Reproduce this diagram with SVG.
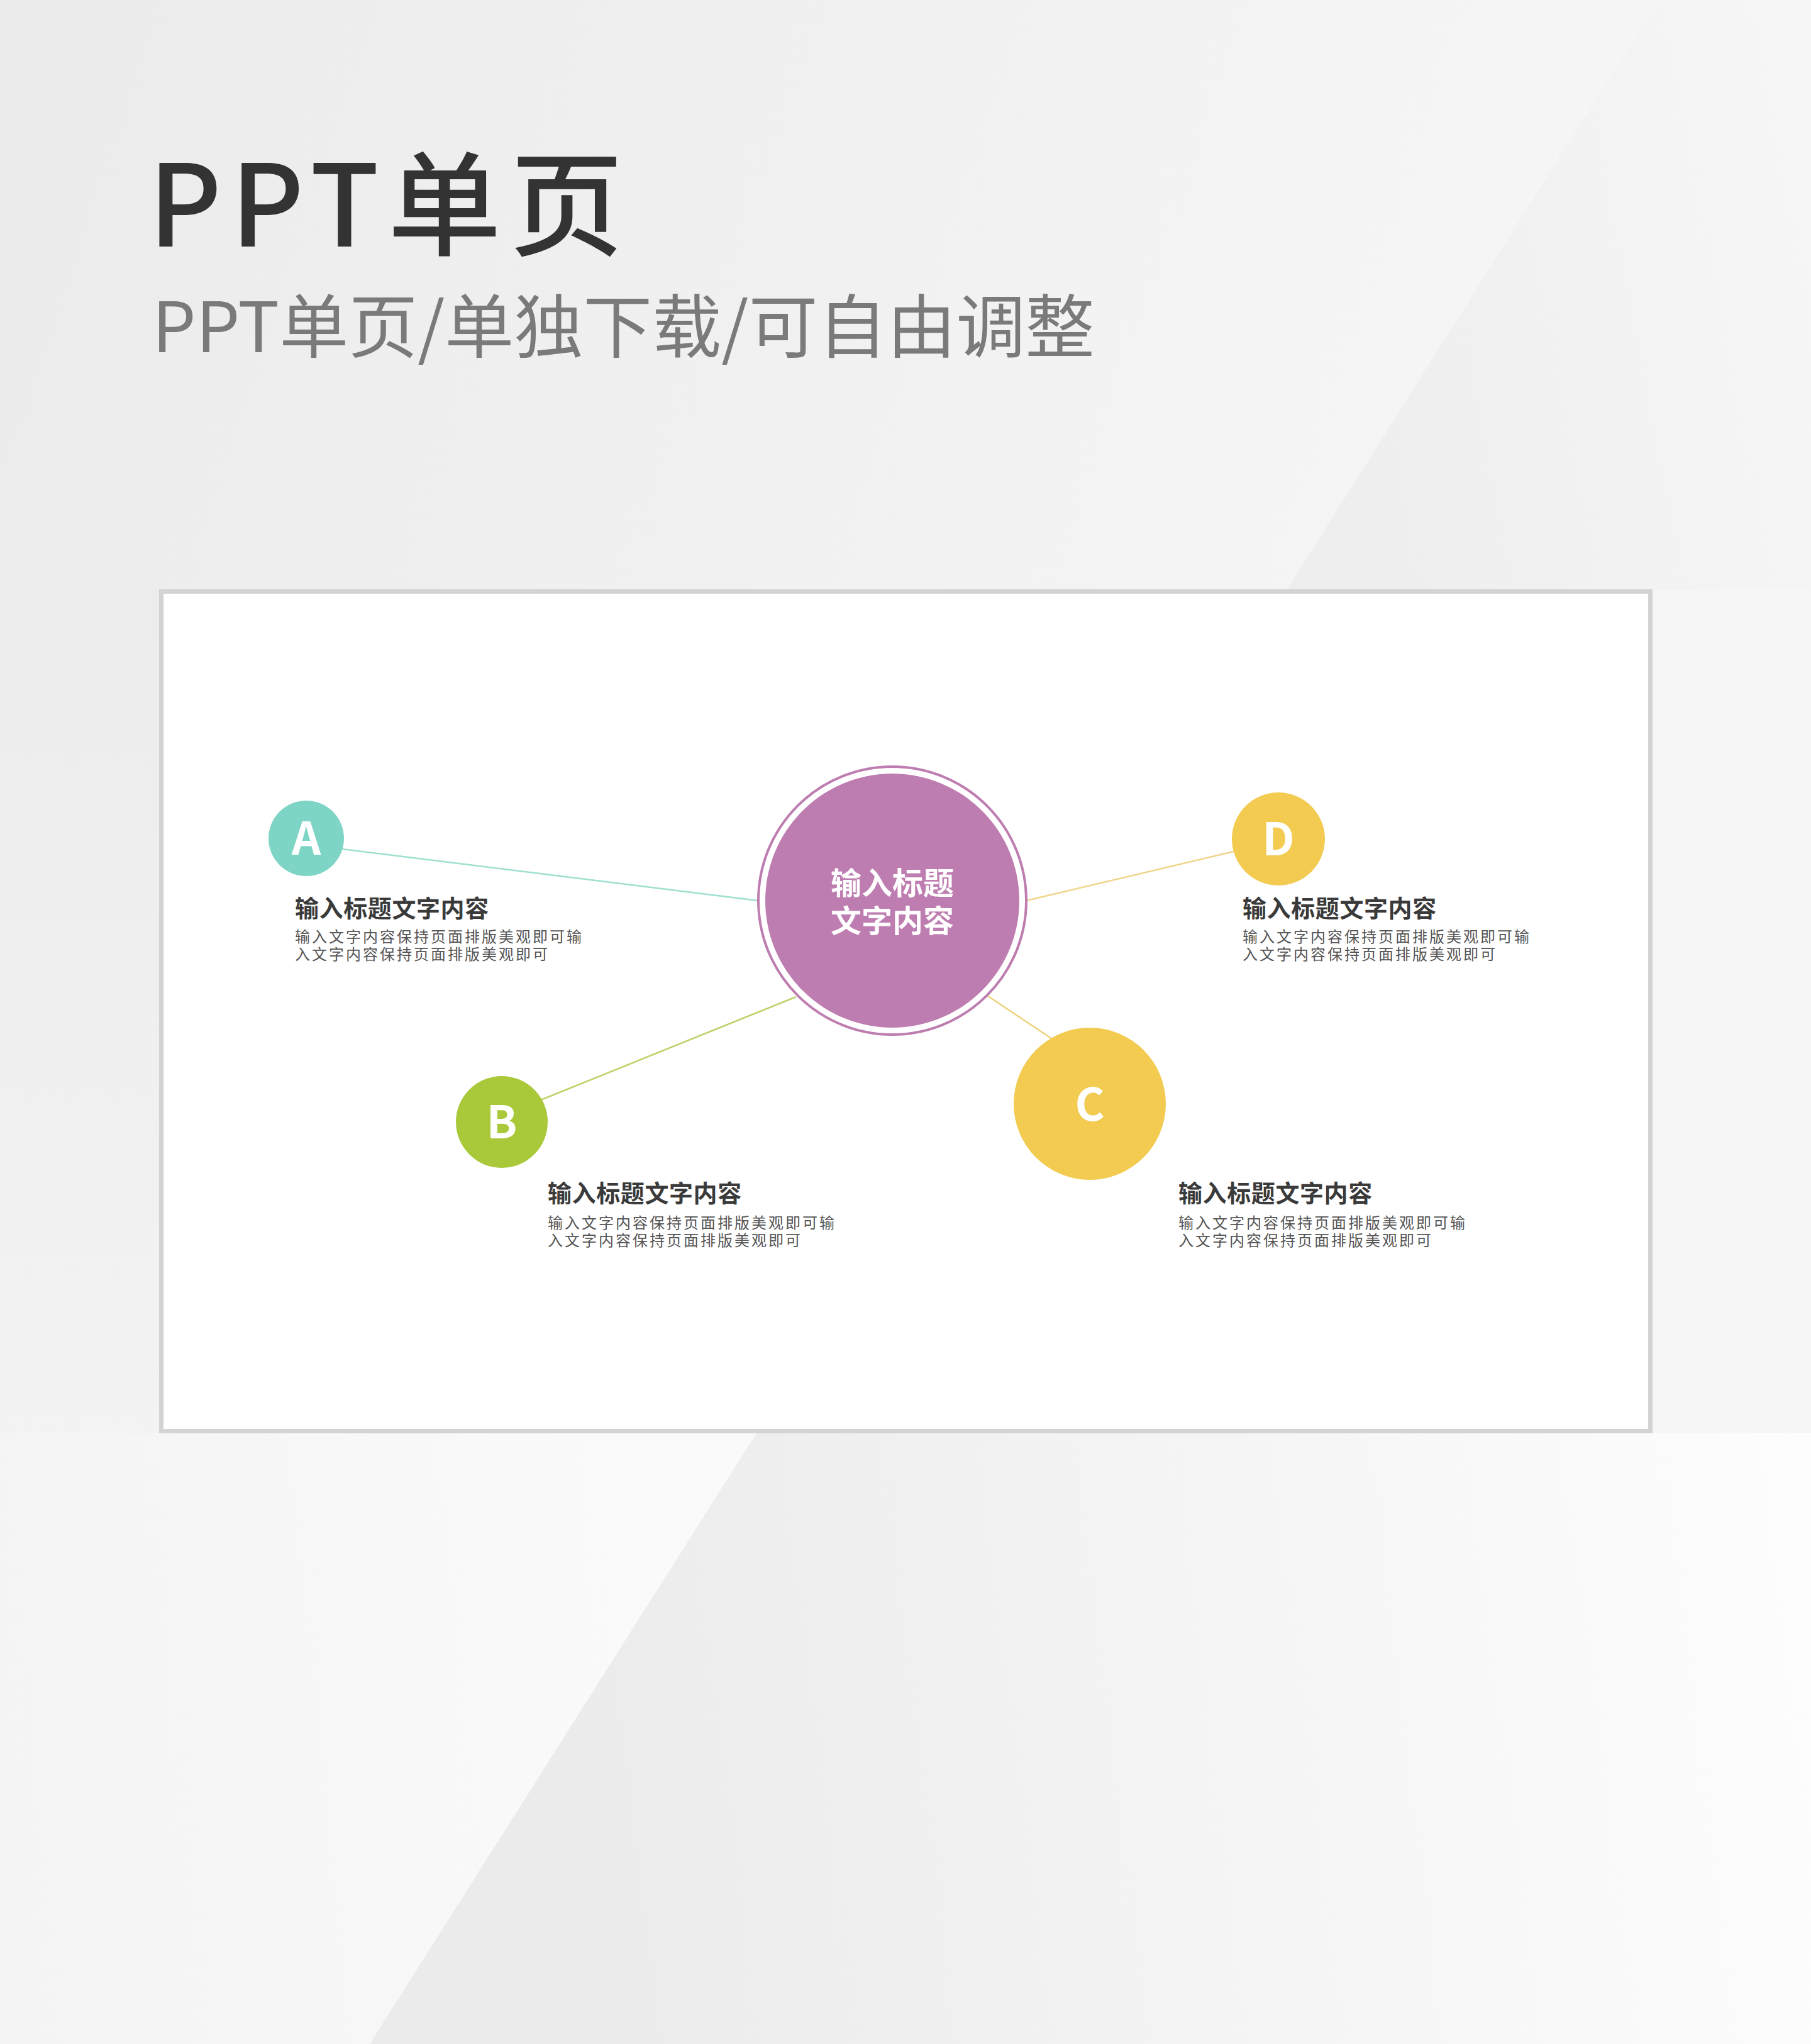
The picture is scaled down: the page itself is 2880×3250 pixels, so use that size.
<svg xmlns="http://www.w3.org/2000/svg" width="2880" height="3250" viewBox="0 0 2880 3250">
  <style>
    .cjk { font-family: "Noto Sans CJK SC", "Noto Sans", sans-serif; }
    .h1 { font-size: 180px; font-weight: 500; fill: #333333; letter-spacing: 14px; }
    .h2 { font-size: 110px; font-weight: 400; fill: #7a7a7a; }
    .nt { font-size: 38px; font-weight: 700; fill: #3a3a3a; letter-spacing: 0.6px; }
    .nb { font-size: 24px; font-weight: 400; fill: #555555; letter-spacing: 3px; }
    .lt { font-size: 72px; font-weight: 700; fill: #ffffff; text-anchor: middle; }
    .ct { font-size: 49px; font-weight: 700; fill: #ffffff; text-anchor: middle; }
    .conn { fill: none; stroke-width: 2.5; }
  </style>
  <defs>
    <linearGradient id="bgBase" x1="0" y1="0" x2="2700" y2="900" gradientUnits="userSpaceOnUse">
      <stop offset="0" stop-color="#ebebeb"/>
      <stop offset="1" stop-color="#f7f7f7"/>
    </linearGradient>
    <linearGradient id="bgTR" x1="2100" y1="500" x2="2880" y2="350" gradientUnits="userSpaceOnUse">
      <stop offset="0" stop-color="#eeeeee"/>
      <stop offset="1" stop-color="#f6f6f6"/>
    </linearGradient>
    <linearGradient id="bgL" x1="0" y1="937" x2="0" y2="2279" gradientUnits="userSpaceOnUse">
      <stop offset="0" stop-color="#ececec"/>
      <stop offset="1" stop-color="#f3f3f3"/>
    </linearGradient>
    <linearGradient id="bgBL" x1="0" y1="2800" x2="1000" y2="2700" gradientUnits="userSpaceOnUse">
      <stop offset="0" stop-color="#f4f4f4"/>
      <stop offset="1" stop-color="#fafafa"/>
    </linearGradient>
    <linearGradient id="bgBR" x1="880" y1="2800" x2="2880" y2="2550" gradientUnits="userSpaceOnUse">
      <stop offset="0" stop-color="#ebebeb"/>
      <stop offset="1" stop-color="#fdfdfd"/>
    </linearGradient>
  </defs>

  <!-- background -->
  <rect x="0" y="0" width="2880" height="3250" fill="url(#bgBase)"/>
  <polygon points="2637,0 2880,0 2880,937 2047,937" fill="url(#bgTR)"/>
  <rect x="0" y="937" width="256" height="1342" fill="url(#bgL)"/>
  <rect x="2624" y="937" width="256" height="1342" fill="#f6f6f6"/>
  <polygon points="0,2279 1203,2279 588,3250 0,3250" fill="url(#bgBL)"/>
  <polygon points="1203,2279 2880,2279 2880,3250 588,3250" fill="url(#bgBR)"/>

  <!-- heading -->
  <text class="cjk h1" x="236" y="392">PPT单页</text>
  <text class="cjk h2" x="242" y="560">PPT单页/单独下载/可自由调整</text>

  <!-- card -->
  <rect x="256.5" y="940.5" width="2368" height="1335" fill="#ffffff" stroke="#d3d3d3" stroke-width="7"/>

  <!-- connectors -->
  <g id="connectors">
    <line class="conn" x1="487" y1="1343" x2="1205" y2="1432" stroke="#9edfd0"/>
    <line class="conn" x1="798" y1="1774" x2="1266" y2="1585" stroke="#bcd36a"/>
    <line class="conn" x1="1570" y1="1583" x2="1733" y2="1692" stroke="#ecd37a"/>
    <line class="conn" x1="1632" y1="1432" x2="2033" y2="1337" stroke="#efd68a"/>
  </g>

  <!-- center node -->
  <g id="node-center">
    <circle cx="1419" cy="1432" r="213" fill="#ffffff" stroke="#be7db0" stroke-width="4"/>
    <circle cx="1419" cy="1432" r="202" fill="#be7db0"/>
    <text class="cjk ct" x="1419" y="1422">输入标题</text>
    <text class="cjk ct" x="1419" y="1482">文字内容</text>
  </g>

  <!-- node A -->
  <g id="node-a">
    <circle cx="487" cy="1333" r="60" fill="#7fd5c5"/>
    <text class="cjk lt" x="487" y="1359">A</text>
    <text class="cjk nt" x="469" y="1458">输入标题文字内容</text>
    <text class="cjk nb" x="469" y="1498">输入文字内容保持页面排版美观即可输</text>
    <text class="cjk nb" x="469" y="1526">入文字内容保持页面排版美观即可</text>
  </g>

  <!-- node B -->
  <g id="node-b">
    <circle cx="798" cy="1784" r="73" fill="#a9c83a"/>
    <text class="cjk lt" x="798" y="1810">B</text>
    <text class="cjk nt" x="871" y="1911">输入标题文字内容</text>
    <text class="cjk nb" x="871" y="1953">输入文字内容保持页面排版美观即可输</text>
    <text class="cjk nb" x="871" y="1981">入文字内容保持页面排版美观即可</text>
  </g>

  <!-- node C -->
  <g id="node-c">
    <circle cx="1733" cy="1755" r="121" fill="#f2cb50"/>
    <text class="cjk lt" x="1733" y="1782">C</text>
    <text class="cjk nt" x="1874" y="1911">输入标题文字内容</text>
    <text class="cjk nb" x="1874" y="1953">输入文字内容保持页面排版美观即可输</text>
    <text class="cjk nb" x="1874" y="1981">入文字内容保持页面排版美观即可</text>
  </g>

  <!-- node D -->
  <g id="node-d">
    <circle cx="2033" cy="1334" r="74" fill="#f2cb50"/>
    <text class="cjk lt" x="2033" y="1360">D</text>
    <text class="cjk nt" x="1976" y="1458">输入标题文字内容</text>
    <text class="cjk nb" x="1976" y="1498">输入文字内容保持页面排版美观即可输</text>
    <text class="cjk nb" x="1976" y="1526">入文字内容保持页面排版美观即可</text>
  </g>
</svg>
